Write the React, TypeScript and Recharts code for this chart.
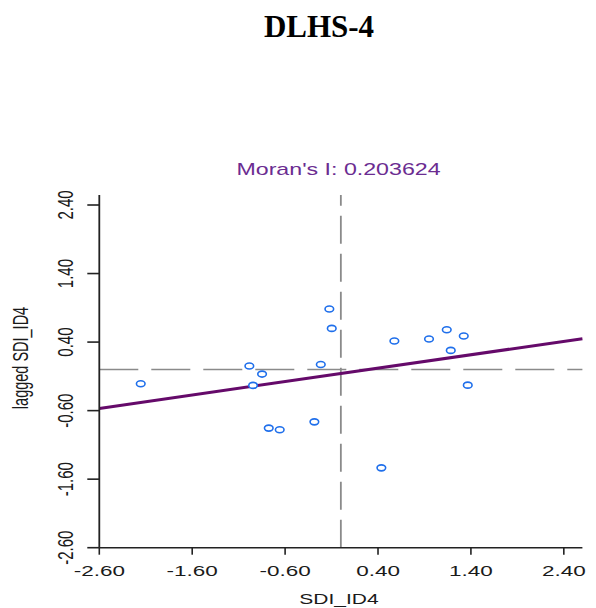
import React from "react";
import {
  ScatterChart,
  Scatter,
  XAxis,
  YAxis,
  ReferenceLine,
} from "recharts";

// standardized SDI (x) vs spatially lagged SDI (y), one point per region
const sdiValues = [
  -2.154, -0.985, -0.848, -0.945, -0.124, -0.098, -0.216, -0.776, -0.658,
  -0.285, 0.436, 0.576, 0.949, 1.14, 1.323, 1.183, 1.366,
];
const laggedValues = [
  -0.209, 0.05, -0.067, -0.232, 0.882, 0.6, 0.074, -0.855, -0.88, -0.764,
  -1.435, 0.415, 0.444, 0.58, 0.488, 0.279, -0.228,
];

const xTicks = [-2.6, -1.6, -0.6, 0.4, 1.4, 2.4];
const yTicks = [2.4, 1.4, 0.4, -0.6, -1.6, -2.6];

// regression line ends (slope ~ Moran's I)
const fitStart = { x: -2.6, y: -0.568 };
const fitEnd = { x: 2.6, y: 0.45 };

const MORAN_I = "0.203624";

const points = sdiValues.map((x, i) => ({ x, y: laggedValues[i] }));

const FONT = "'Liberation Sans', Arial, sans-serif";
const INK = "#1a1a1a";

const XTick = (props: any) => {
  const { x, payload } = props;
  return (
    <text
      transform={`translate(${x},576) scale(1.5,1)`}
      textAnchor="middle"
      fontFamily={FONT}
      fontSize={15}
      fill={INK}
    >
      {Number(payload.value).toFixed(2)}
    </text>
  );
};

const YTick = (props: any) => {
  const { y, payload } = props;
  return (
    <text
      transform={`translate(73,${y}) scale(1.5,1) rotate(-90)`}
      textAnchor="middle"
      fontFamily={FONT}
      fontSize={15}
      fill={INK}
    >
      {Number(payload.value).toFixed(2)}
    </text>
  );
};

const OpenDot = (props: any) => {
  const { cx, cy } = props;
  return (
    <ellipse
      cx={cx}
      cy={cy}
      rx={4.3}
      ry={3}
      fill="#fff"
      stroke="#1f6feb"
      strokeWidth={1.6}
    />
  );
};

export default function App() {
  return (
    <div
      style={{
        position: "absolute",
        left: 0,
        top: 0,
        width: 596,
        height: 608,
        background: "#fff",
      }}
    >
      <ScatterChart
        width={596}
        height={608}
        margin={{ top: 195, right: 13.6, bottom: 20.3, left: 39.3 }}
      >
        <XAxis
          type="number"
          dataKey="x"
          domain={[-2.6, 2.6]}
          ticks={xTicks}
          allowDataOverflow
          tickSize={7}
          height={40}
          axisLine={{ stroke: "#222", strokeWidth: 1.6 }}
          tickLine={{ stroke: "#222", strokeWidth: 1.6 }}
          tick={<XTick />}
        />
        <YAxis
          type="number"
          dataKey="y"
          domain={[-2.6, 2.546]}
          ticks={yTicks}
          allowDataOverflow
          tickSize={12}
          width={60}
          axisLine={{ stroke: "#222", strokeWidth: 1.8 }}
          tickLine={{ stroke: "#222", strokeWidth: 1.6 }}
          tick={<YTick />}
        />
        <ReferenceLine
          y={0}
          stroke="#8a8a8a"
          strokeWidth={1.6}
          strokeDasharray="39 13"
        />
        <ReferenceLine
          x={0}
          stroke="#8a8a8a"
          strokeWidth={1.8}
          strokeDasharray="28 10"
        />
        <ReferenceLine
          segment={[fitStart, fitEnd]}
          stroke="#650a6a"
          strokeWidth={3}
          ifOverflow="visible"
        />
        <Scatter data={points} shape={<OpenDot />} isAnimationActive={false} />
      </ScatterChart>

      <svg
        width={596}
        height={608}
        style={{ position: "absolute", left: 0, top: 0, pointerEvents: "none" }}
      >
        <text
          x={319}
          y={37}
          textAnchor="middle"
          fontFamily="'Liberation Serif', 'Times New Roman', serif"
          fontWeight="bold"
          fontSize={31}
          fill="#000"
        >
          DLHS-4
        </text>
        <text
          transform="translate(338.5,175) scale(1.45,1)"
          textAnchor="middle"
          fontFamily={FONT}
          fontSize={16}
          fill="#6b2c91"
        >
          {`Moran's I: ${MORAN_I}`}
        </text>
        <text
          transform="translate(339,604) scale(1.4,1)"
          textAnchor="middle"
          fontFamily={FONT}
          fontSize={15}
          fill={INK}
        >
          SDI_ID4
        </text>
        <text
          transform="translate(28,358) scale(1.5,1) rotate(-90)"
          textAnchor="middle"
          fontFamily={FONT}
          fontSize={14.5}
          fill={INK}
        >
          lagged SDI_ID4
        </text>
      </svg>
    </div>
  );
}
